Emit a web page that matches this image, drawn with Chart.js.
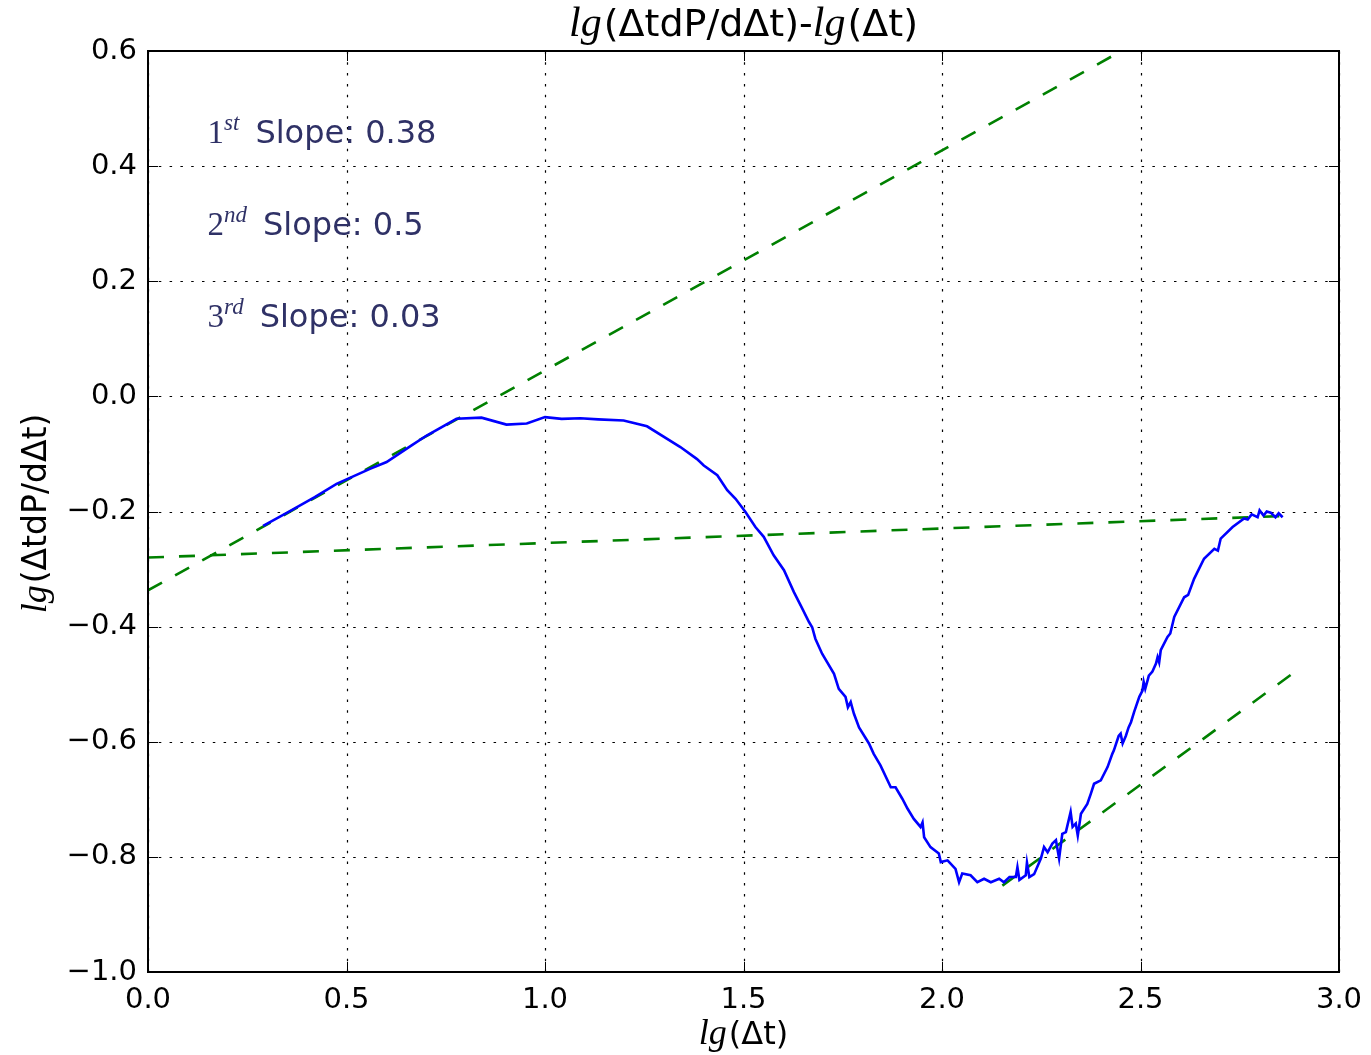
<!DOCTYPE html>
<html>
<head>
<meta charset="utf-8">
<script src="https://cdn.jsdelivr.net/npm/chart.js@4/dist/chart.umd.min.js"></script>
<style>
html,body{margin:0;padding:0;background:#fff;}
#wrap{width:1371px;height:1055px;position:relative;}
</style>
</head>
<body>
<div id="wrap"><canvas id="c" width="1371" height="1055"></canvas></div>
<script>
// ---- data ----
const curveX = [0.290,0.353,0.420,0.475,0.559,0.601,0.664,0.702,0.777,0.840,0.903,0.954,1.000,1.042,1.089,1.134,1.198,1.257,1.341,1.383,1.400,1.434,1.459,1.480,1.505,1.530,1.551,1.576,1.602,1.627,1.644,1.665,1.673,1.681,1.698,1.728,1.740,1.757,1.763,1.770,1.778,1.791,1.816,1.828,1.845,1.871,1.883,1.900,1.913,1.929,1.946,1.951,1.955,1.971,1.992,1.997,2.014,2.034,2.043,2.051,2.072,2.089,2.106,2.123,2.144,2.156,2.170,2.186,2.190,2.195,2.211,2.214,2.220,2.232,2.249,2.257,2.266,2.278,2.287,2.295,2.303,2.312,2.324,2.329,2.337,2.342,2.350,2.366,2.375,2.383,2.400,2.417,2.429,2.433,2.445,2.450,2.455,2.463,2.470,2.476,2.484,2.497,2.505,2.508,2.512,2.518,2.521,2.530,2.539,2.543,2.547,2.551,2.568,2.575,2.585,2.610,2.620,2.635,2.660,2.686,2.695,2.702,2.732,2.761,2.770,2.780,2.795,2.800,2.810,2.818,2.828,2.840,2.848,2.858];
const curveY = [-0.225,-0.201,-0.175,-0.152,-0.126,-0.114,-0.085,-0.068,-0.039,-0.037,-0.049,-0.047,-0.036,-0.039,-0.038,-0.040,-0.042,-0.052,-0.088,-0.109,-0.120,-0.137,-0.163,-0.178,-0.201,-0.227,-0.244,-0.276,-0.302,-0.340,-0.363,-0.392,-0.401,-0.421,-0.447,-0.482,-0.508,-0.522,-0.540,-0.531,-0.551,-0.575,-0.603,-0.621,-0.641,-0.679,-0.679,-0.699,-0.716,-0.734,-0.748,-0.740,-0.766,-0.783,-0.794,-0.809,-0.806,-0.821,-0.844,-0.829,-0.832,-0.844,-0.838,-0.844,-0.838,-0.844,-0.835,-0.835,-0.818,-0.840,-0.832,-0.810,-0.835,-0.830,-0.803,-0.783,-0.792,-0.777,-0.771,-0.803,-0.760,-0.757,-0.722,-0.748,-0.742,-0.763,-0.725,-0.708,-0.690,-0.673,-0.667,-0.644,-0.621,-0.615,-0.590,-0.586,-0.603,-0.590,-0.575,-0.566,-0.548,-0.522,-0.511,-0.496,-0.508,-0.493,-0.485,-0.478,-0.464,-0.453,-0.462,-0.441,-0.418,-0.412,-0.383,-0.349,-0.345,-0.317,-0.282,-0.265,-0.268,-0.247,-0.227,-0.212,-0.214,-0.205,-0.210,-0.198,-0.207,-0.200,-0.202,-0.210,-0.203,-0.210];
const fit1X = [0, 2.452];   const fit1Y = [-0.337, 0.6];
const fit2X = [2.152, 2.90]; const fit2Y = [-0.850, -0.473];
const fit3X = [0, 2.85];   const fit3Y = [-0.280, -0.208];
const xTicks = [0,0.5,1.0,1.5,2.0,2.5,3.0];
const yTicks = [-1.0,-0.8,-0.6,-0.4,-0.2,0.0,0.2,0.4,0.6];
const ordinals = ['1','2','3'];
const ordSuffix = ['st','nd','rd'];
const slopeLabels = ['Slope: 0.38','Slope: 0.5','Slope: 0.03'];
const slopeTextX = 0.15;
const slopeTextY = [0.44, 0.28, 0.12];

const pts = (xs, ys) => xs.map((x,i)=>({x:x,y:ys[i]}));
const fmt = v => (v < -1e-9 ? '\u2212' : '') + Math.abs(v).toFixed(1);

const SANS = 'DejaVu Sans';
const SERIF = 'Liberation Serif';

function drawRuns(ctx, runs, x, y, align){
  let total = 0;
  runs.forEach(r=>{ctx.font=r.f; r.w=ctx.measureText(r.t).width + (r.gap||0); total+=r.w;});
  let cx = align==='center' ? x-total/2 : x;
  ctx.textAlign='left'; ctx.textBaseline='alphabetic';
  runs.forEach(r=>{ctx.font=r.f; ctx.fillText(r.t, cx, y+(r.dy||0)); cx+=r.w;});
}

const decor = {
  id:'decor',
  beforeDatasetsDraw(chart){
    const ctx=chart.ctx, a=chart.chartArea, xs=chart.scales.x, ys=chart.scales.y;
    ctx.save();
    ctx.strokeStyle='#000'; ctx.lineWidth=1.2; ctx.setLineDash([2.5,8.3]);
    xTicks.forEach(v=>{const p=Math.round(xs.getPixelForValue(v))+0.5; ctx.beginPath(); ctx.moveTo(p,a.bottom); ctx.lineTo(p,a.top); ctx.stroke();});
    yTicks.forEach(v=>{const p=Math.round(ys.getPixelForValue(v))+0.5; ctx.beginPath(); ctx.moveTo(a.left,p); ctx.lineTo(a.right,p); ctx.stroke();});
    ctx.restore();
  },
  afterDatasetsDraw(chart){
    const ctx=chart.ctx, a=chart.chartArea, xs=chart.scales.x, ys=chart.scales.y;
    ctx.save();
    ctx.setLineDash([]);
    ctx.strokeStyle='#000'; ctx.lineWidth=1;
    const tl=10;
    xTicks.forEach(v=>{const p=Math.round(xs.getPixelForValue(v))+0.5;
      ctx.beginPath(); ctx.moveTo(p,a.bottom); ctx.lineTo(p,a.bottom-tl); ctx.moveTo(p,a.top); ctx.lineTo(p,a.top+tl); ctx.stroke();});
    yTicks.forEach(v=>{const p=Math.round(ys.getPixelForValue(v))+0.5;
      ctx.beginPath(); ctx.moveTo(a.left,p); ctx.lineTo(a.left+tl,p); ctx.moveTo(a.right,p); ctx.lineTo(a.right-tl,p); ctx.stroke();});
    ctx.lineWidth=2;
    ctx.strokeRect(a.left, a.top, a.right-a.left, a.bottom-a.top);
    ctx.fillStyle='#000';
    // title
    drawRuns(ctx,[
      {t:'lg',f:'italic 42px '+SERIF,gap:2},
      {t:'(\u0394tdP/d\u0394t)-',f:'38px '+SANS},
      {t:'lg',f:'italic 42px '+SERIF,gap:2},
      {t:'(\u0394t)',f:'38px '+SANS}
    ], (a.left+a.right)/2, 36, 'center');
    // x label
    drawRuns(ctx,[
      {t:'lg',f:'italic 36px '+SERIF,gap:2},
      {t:'(\u0394t)',f:'32px '+SANS}
    ], (a.left+a.right)/2, 1044, 'center');
    // y label
    ctx.save();
    ctx.translate(46, (a.top+a.bottom)/2+2);
    ctx.rotate(-Math.PI/2);
    drawRuns(ctx,[
      {t:'lg',f:'italic 36px '+SERIF,gap:2},
      {t:'(\u0394tdP/d\u0394t)',f:'33px '+SANS}
    ], 0, 0, 'center');
    ctx.restore();
    // slope annotations
    ctx.fillStyle='#2f3166';
    ordinals.forEach((o,i)=>{
      const px=xs.getPixelForValue(slopeTextX), py=ys.getPixelForValue(slopeTextY[i]);
      drawRuns(ctx,[
        {t:o,f:'33px '+SERIF},
        {t:ordSuffix[i],f:'italic 23px '+SERIF,dy:-13,gap:16},
        {t:slopeLabels[i],f:'32px '+SANS}
      ], px, py, 'left');
    });
    ctx.restore();
  }
};

const lineDS = (data,color,w,dash)=>({data:data,borderColor:color,borderWidth:w,borderDash:dash||[],pointRadius:0,showLine:true,fill:false,tension:0});

new Chart(document.getElementById('c'),{
  type:'scatter',
  data:{datasets:[
    lineDS(pts(curveX,curveY),'#0000ff',2.6),
    lineDS(pts(fit1X,fit1Y),'#008000',2.6,[16,15]),
    lineDS(pts(fit2X,fit2Y),'#008000',2.6,[16,15]),
    lineDS(pts(fit3X,fit3Y),'#008000',2.6,[16,15])
  ]},
  options:{
    responsive:false, animation:false, devicePixelRatio:1,
    layout:{padding:{left:0,right:32,top:51,bottom:0}},
    plugins:{legend:{display:false},tooltip:{enabled:false},title:{display:false}},
    scales:{
      x:{type:'linear',min:0,max:3,
        afterBuildTicks:s=>{s.ticks=xTicks.map(v=>({value:v}));},
        afterFit:s=>{s.height=83;},
        grid:{display:false},border:{display:false},
        ticks:{callback:fmt,padding:3,maxRotation:0,autoSkip:false,color:'#000',font:{family:SANS,size:29}}},
      y:{type:'linear',min:-1,max:0.6,
        afterBuildTicks:s=>{s.ticks=yTicks.map(v=>({value:v}));},
        afterFit:s=>{s.width=148;},
        grid:{display:false},border:{display:false},
        ticks:{callback:fmt,padding:3,autoSkip:false,color:'#000',font:{family:SANS,size:29}}}
    }
  },
  plugins:[decor]
});
</script>
</body>
</html>
